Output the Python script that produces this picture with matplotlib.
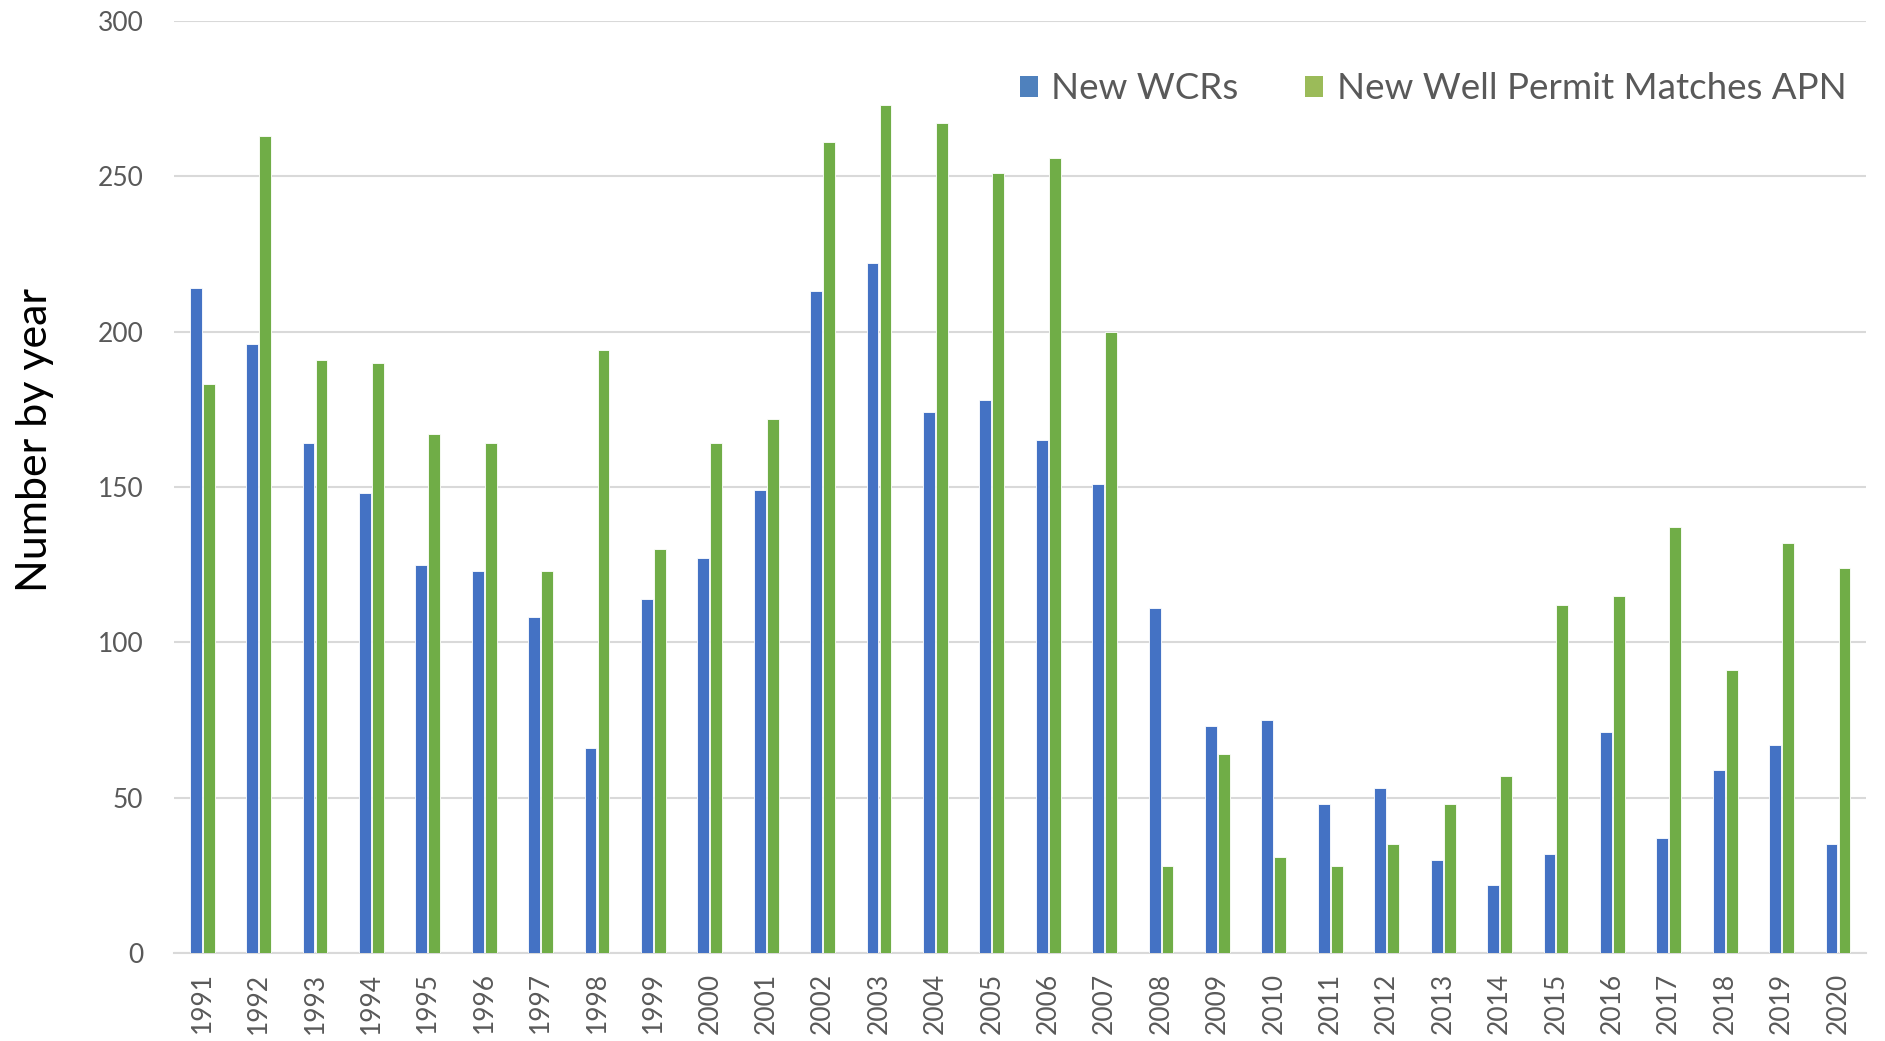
import matplotlib.pyplot as plt
import numpy as np
from matplotlib.patches import Patch

plt.rcParams['font.family'] = ['Lato', 'DejaVu Sans']

# data
years = [str(y) for y in range(1991, 2021)]
new_wcrs = [214, 196, 164, 148, 125, 123, 108, 66, 114, 127,
            149, 213, 222, 174, 178, 165, 151, 111, 73, 75,
            48, 53, 30, 22, 32, 71, 37, 59, 67, 35]
permit_matches = [183, 263, 191, 190, 167, 164, 123, 194, 130, 164,
                  172, 261, 273, 267, 251, 256, 200, 28, 64, 31,
                  28, 35, 48, 57, 112, 115, 137, 91, 132, 124]
series_names = ['New WCRs', 'New Well Permit Matches APN']
yticks = [0, 50, 100, 150, 200, 250, 300]

fig = plt.figure(figsize=(18.85, 10.41), dpi=100)
ax = fig.add_axes([0.0923, 0.0845, 0.8977, 0.8955])

x = np.arange(len(years))
w = 0.21
ax.bar(x - 0.115, new_wcrs, w, color='#4472C4', edgecolor='white', linewidth=0.6, zorder=3)
ax.bar(x + 0.115, permit_matches, w, color='#70AD47', edgecolor='white', linewidth=0.6, zorder=3)

ax.set_xlim(-0.5, len(years) - 0.5)
ax.set_ylim(0, 300)
ax.set_yticks(yticks)
ax.set_xticks(x)
ax.set_xticklabels(years, rotation=90, fontsize=19, color='#595959')
ax.tick_params(axis='y', labelsize=19, labelcolor='#595959', length=0, pad=22)
ax.tick_params(axis='x', length=0, pad=14)
ax.yaxis.grid(True, color='#D9D9D9', linewidth=1.5, zorder=0)
for s in ['top', 'right', 'left']:
    ax.spines[s].set_visible(False)
ax.spines['bottom'].set_color('#D9D9D9')
ax.spines['bottom'].set_linewidth(1.5)
ax.set_axisbelow(True)

ax.set_ylabel('Number by year', fontsize=31, color='black')
ax.yaxis.set_label_coords(-0.071, 0.55)

handles = [Patch(facecolor='#4F81BD'), Patch(facecolor='#9BBB59')]
ax.legend(handles, series_names, loc='center right', bbox_to_anchor=(0.997, 0.927),
          borderaxespad=0, ncol=2, frameon=False, fontsize=26.5, labelcolor='#595959',
          handlelength=0.5, handleheight=0.5, handletextpad=0.36, columnspacing=1.8)

fig.savefig('out.png', dpi=100)
